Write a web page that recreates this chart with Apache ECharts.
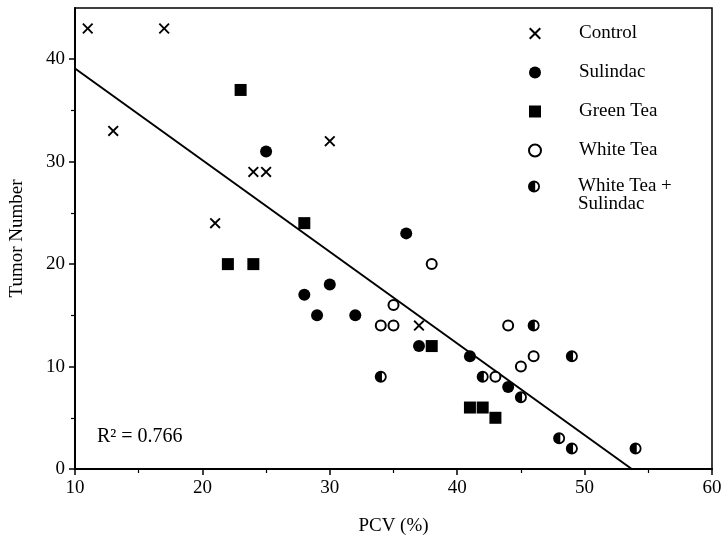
<!DOCTYPE html>
<html>
<head>
<meta charset="utf-8">
<script src="https://cdn.jsdelivr.net/npm/echarts@6/dist/echarts.min.js"></script>
<style>html,body{margin:0;padding:0;background:#fff;}#c{width:728px;height:541px;}</style>
</head>
<body>
<div id="c"></div>
<script>
// Data
const controlX = [11, 17, 13, 21, 24, 25, 30, 37];
const controlY = [43, 43, 33, 24, 29, 29, 32, 14];
const sulindacX = [25, 28, 29, 30, 32, 36, 37, 41, 44];
const sulindacY = [31, 17, 15, 18, 15, 23, 12, 11, 8];
const greenTeaX = [23, 22, 24, 28, 38, 41, 42, 43];
const greenTeaY = [37, 20, 20, 24, 12, 6, 6, 5];
const whiteTeaX = [38, 35, 34, 35, 44, 46, 45, 43];
const whiteTeaY = [20, 16, 14, 14, 14, 11, 10, 9];
const wtSulX = [34, 42, 46, 49, 45, 48, 49, 54];
const wtSulY = [9, 9, 14, 11, 7, 3, 2, 2];
const fitX = [10, 53.7];
const fitY = [39.1, 0];
const seriesNames = ['Control', 'Sulindac', 'Green Tea', 'White Tea', 'White Tea + Sulindac'];
const xTicks = [10, 20, 30, 40, 50, 60];
const yTicks = [0, 10, 20, 30, 40];
const yMinorTicks = [5, 15, 25, 35];
const r2Text = 'R\u00B2 = 0.766';

const pair = (xs, ys) => xs.map((x, i) => [x, ys[i]]);

const FONT = '"Liberation Serif", "DejaVu Serif", serif';
const SYM_CROSS = 'path://M0,1.2L1.2,0L5,3.8L8.8,0L10,1.2L6.2,5L10,8.8L8.8,10L5,6.2L1.2,10L0,8.8L3.8,5Z';
const SYM_SQUARE = 'path://M0,0L10,0L10,10L0,10Z';
const SYM_HALF = 'path://M0,-10A10,10,0,0,1,0,10A10,10,0,0,1,0,-10ZM2,-6.7L2,6.7A7,7,0,0,0,2,-6.7Z';

const chart = echarts.init(document.getElementById('c'), null, {renderer: 'canvas'});
const option = {
  animation: false,
  backgroundColor: '#fff',
  textStyle: {fontFamily: FONT, color: '#000'},
  grid: {left: 72, right: 16, top: 8, bottom: 72, show: true, borderColor: '#000', borderWidth: 1.5},
  xAxis: {
    type: 'value', min: xTicks[0], max: xTicks[xTicks.length - 1], interval: 10,
    name: 'PCV (%)', nameLocation: 'middle', nameGap: 48,
    nameTextStyle: {fontFamily: FONT, fontSize: 19, color: '#000'},
    axisLine: {lineStyle: {color: '#000', width: 2}},
    axisTick: {show: true, inside: false, length: 6, lineStyle: {color: '#000', width: 1.5}},
    minorTick: {show: true, splitNumber: 2, length: 4, lineStyle: {color: '#000', width: 1.2}},
    axisLabel: {fontFamily: FONT, fontSize: 19, color: '#000', margin: 10},
    splitLine: {show: false}
  },
  yAxis: [
    {
      type: 'value', min: yTicks[0], max: 45, interval: 10,
      name: 'Tumor Number', nameLocation: 'middle', nameGap: 48,
      nameTextStyle: {fontFamily: FONT, fontSize: 19, color: '#000'},
      axisLine: {show: true, lineStyle: {color: '#000', width: 2}},
      axisTick: {show: true, inside: false, length: 6, customValues: yTicks, lineStyle: {color: '#000', width: 1.5}},
      axisLabel: {fontFamily: FONT, fontSize: 19, color: '#000', margin: 10, customValues: yTicks},
      splitLine: {show: false}
    },
    {
      type: 'value', min: yTicks[0], max: 45, position: 'left',
      axisLine: {show: false},
      axisTick: {show: true, inside: false, length: 4, customValues: yMinorTicks, lineStyle: {color: '#000', width: 1.2}},
      axisLabel: {show: false},
      splitLine: {show: false}
    }
  ],
  legend: [
    {
      data: seriesNames.slice(0, 4), orient: 'vertical', left: 528, top: 24, padding: 0,
      itemWidth: 78, itemHeight: 12, itemGap: 20, selectedMode: false,
      textStyle: {fontFamily: FONT, fontSize: 19, color: '#000', lineHeight: 18}
    },
    {
      data: seriesNames.slice(4), orient: 'vertical', left: 528, top: 159, padding: 0,
      itemWidth: 78, itemHeight: 12, selectedMode: false,
      formatter: () => '\nWhite Tea +\nSulindac',
      textStyle: {fontFamily: FONT, fontSize: 19, color: '#000', lineHeight: 18}
    }
  ],
  graphic: [
    {type: 'text', x: 97, y: 437, style: {text: r2Text, font: '20px ' + FONT, fill: '#000', verticalAlign: 'middle'}}
  ],
  series: [
    {
      name: 'fit', type: 'line', data: pair(fitX, fitY), showSymbol: false, symbol: 'none',
      lineStyle: {color: '#000', width: 2}, z: 1, silent: true
    },
    {
      name: seriesNames[0], type: 'scatter', data: pair(controlX, controlY),
      symbol: SYM_CROSS, symbolSize: 11, itemStyle: {color: '#000', opacity: 1}, z: 3
    },
    {
      name: seriesNames[1], type: 'scatter', data: pair(sulindacX, sulindacY),
      symbol: 'circle', symbolSize: 12, itemStyle: {color: '#000', opacity: 1}, z: 3
    },
    {
      name: seriesNames[2], type: 'scatter', data: pair(greenTeaX, greenTeaY),
      symbol: SYM_SQUARE, symbolSize: 12, itemStyle: {color: '#000', opacity: 1}, z: 3
    },
    {
      name: seriesNames[3], type: 'scatter', data: pair(whiteTeaX, whiteTeaY),
      symbol: 'emptyCircle', symbolSize: 10, itemStyle: {color: '#000', borderColor: '#000', borderWidth: 1.5, opacity: 1}, z: 3
    },
    {
      name: seriesNames[4], type: 'scatter', data: pair(wtSulX, wtSulY),
      symbol: SYM_HALF, symbolSize: 12, itemStyle: {color: '#000', opacity: 1}, z: 3
    }
  ]
};
chart.setOption(option);
</script>
</body>
</html>
